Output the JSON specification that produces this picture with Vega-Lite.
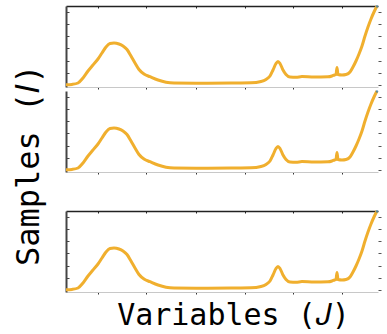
{
  "$schema": "https://vega.github.io/schema/vega-lite/v6.json",
  "padding": {"left": 12, "top": 0, "right": 0, "bottom": 0},
  "datasets": {
    "spec": [
      {"j": 0, "v": 2.2}, {"j": 6, "v": 2.6}, {"j": 12, "v": 4}, {"j": 17, "v": 9}, {"j": 22, "v": 16},
      {"j": 27, "v": 22}, {"j": 32, "v": 28}, {"j": 36, "v": 34}, {"j": 40, "v": 40}, {"j": 44, "v": 43.5},
      {"j": 48, "v": 44}, {"j": 53, "v": 43}, {"j": 57, "v": 41}, {"j": 61, "v": 37.5}, {"j": 65, "v": 31},
      {"j": 69, "v": 24}, {"j": 73, "v": 17.5}, {"j": 78, "v": 13}, {"j": 84, "v": 10.3}, {"j": 92, "v": 7},
      {"j": 100, "v": 4.8}, {"j": 108, "v": 4}, {"j": 130, "v": 3.8}, {"j": 165, "v": 4}, {"j": 185, "v": 4.2},
      {"j": 195, "v": 5.5}, {"j": 200, "v": 7.5}, {"j": 204, "v": 11}, {"j": 207, "v": 17}, {"j": 210, "v": 23.5},
      {"j": 212, "v": 25.5}, {"j": 214, "v": 23.5}, {"j": 217, "v": 17}, {"j": 220, "v": 12.5}, {"j": 224, "v": 10},
      {"j": 230, "v": 9.8}, {"j": 236, "v": 10.4}, {"j": 248, "v": 10}, {"j": 262, "v": 10.2}, {"j": 266, "v": 11},
      {"j": 268.5, "v": 12}, {"j": 270, "v": 12.5}, {"j": 271, "v": 19.5}, {"j": 272, "v": 12.5}, {"j": 276, "v": 12},
      {"j": 280, "v": 12.5}, {"j": 284, "v": 15}, {"j": 287, "v": 20}, {"j": 290, "v": 26}, {"j": 293, "v": 33},
      {"j": 296, "v": 41}, {"j": 299, "v": 51}, {"j": 302, "v": 60}, {"j": 305, "v": 68}, {"j": 308, "v": 75},
      {"j": 311, "v": 81}
    ],
    "tip": [{"j": 311, "v": 80.5}]
  },
  "title": {"text": "Samples (𝐼)", "orient": "left", "anchor": "middle", "font": "DejaVu Sans Mono", "fontSize": 32, "fontWeight": "normal", "color": "#000", "offset": 14},
  "config": {"view": {"stroke": null}, "axis": {"grid": false, "labels": false}},
  "spacing": 29,
  "vconcat": [
    {
      "spacing": -14,
      "vconcat": [
        {
          "width": 312, "height": 81,
          "resolve": {"axis": {"x": "independent", "y": "independent"}},
          "layer": [
            {
              "data": {"name": "spec"},
              "mark": {"type": "line", "color": "#F0AF2E", "strokeWidth": 3, "interpolate": "monotone"},
              "encoding": {
                "x": {"field": "j", "type": "quantitative", "scale": {"domain": [0, 312], "nice": false, "zero": false},
                  "axis": {"orient": "bottom", "values": [32, 80, 130, 179, 227, 276], "domainColor": "#c8c8c8", "domainWidth": 1, "tickColor": "#333", "tickSize": 2, "title": null}},
                "y": {"field": "v", "type": "quantitative", "scale": {"domain": [0, 81], "nice": false, "zero": false},
                  "axis": {"orient": "left", "values": [2, 14.3, 26.5, 38.7, 50.9, 63.1, 75.3], "domainColor": "#444", "domainWidth": 2, "tickColor": "#444", "tickSize": -3, "title": null}}
              }
            },
            {
              "data": {"name": "tip"},
              "mark": {"type": "point", "filled": true, "color": "#2a7ab8", "size": 6},
              "encoding": {
                "x": {"field": "j", "type": "quantitative",
                  "axis": {"orient": "top", "values": [32, 80, 130, 179, 227, 276], "domainColor": "#222", "domainWidth": 1.5, "tickColor": "#222", "tickSize": -2, "title": null}},
                "y": {"field": "v", "type": "quantitative",
                  "axis": {"orient": "right", "values": [2, 14.3, 26.5, 38.7, 50.9, 63.1, 75.3], "domain": false, "tickColor": "#555", "tickSize": 3, "title": null}}
              }
            }
          ]
        },
        {
          "width": 312, "height": 81,
          "resolve": {"axis": {"x": "independent", "y": "independent"}},
          "layer": [
            {
              "data": {"name": "spec"},
              "mark": {"type": "line", "color": "#F0AF2E", "strokeWidth": 3, "interpolate": "monotone"},
              "encoding": {
                "x": {"field": "j", "type": "quantitative", "scale": {"domain": [0, 312], "nice": false, "zero": false},
                  "axis": {"orient": "bottom", "values": [32, 80, 130, 179, 227, 276], "domainColor": "#c8c8c8", "domainWidth": 1, "tickColor": "#333", "tickSize": 2, "title": null}},
                "y": {"field": "v", "type": "quantitative", "scale": {"domain": [0, 81], "nice": false, "zero": false},
                  "axis": {"orient": "left", "values": [2, 14.3, 26.5, 38.7, 50.9, 63.1, 75.3], "domainColor": "#444", "domainWidth": 2, "tickColor": "#444", "tickSize": -3, "title": null}}
              }
            },
            {
              "data": {"name": "tip"},
              "mark": {"type": "point", "filled": true, "color": "#2a7ab8", "size": 6},
              "encoding": {
                "x": {"field": "j", "type": "quantitative",
                  "axis": {"orient": "top", "values": [32, 80, 130, 179, 227, 276], "domain": false, "ticks": false, "title": null}},
                "y": {"field": "v", "type": "quantitative",
                  "axis": {"orient": "right", "values": [2, 14.3, 26.5, 38.7, 50.9, 63.1, 75.3], "domain": false, "tickColor": "#555", "tickSize": 3, "title": null}}
              }
            }
          ]
        }
      ]
    },
    {
      "width": 312, "height": 81,
      "resolve": {"axis": {"x": "independent", "y": "independent"}},
      "layer": [
        {
          "data": {"name": "spec"},
          "mark": {"type": "line", "color": "#F0AF2E", "strokeWidth": 3, "interpolate": "monotone"},
          "encoding": {
            "x": {"field": "j", "type": "quantitative", "scale": {"domain": [0, 312], "nice": false, "zero": false},
              "axis": {"orient": "bottom", "values": [32, 80, 130, 179, 227, 276], "domainColor": "#c8c8c8", "domainWidth": 1, "tickColor": "#333", "tickSize": 2,
                "title": "Variables (𝐽)", "titleFont": "DejaVu Sans Mono", "titleFontSize": 30, "titleFontWeight": "normal", "titleColor": "#000", "titlePadding": 6, "titleX": 167}},
            "y": {"field": "v", "type": "quantitative", "scale": {"domain": [0, 81], "nice": false, "zero": false},
              "axis": {"orient": "left", "values": [2, 14.3, 26.5, 38.7, 50.9, 63.1, 75.3], "domainColor": "#444", "domainWidth": 2, "tickColor": "#444", "tickSize": -3, "title": null}}
          }
        },
        {
          "data": {"name": "tip"},
          "mark": {"type": "point", "filled": true, "color": "#2a7ab8", "size": 6},
          "encoding": {
            "x": {"field": "j", "type": "quantitative",
              "axis": {"orient": "top", "values": [32, 80, 130, 179, 227, 276], "domainColor": "#222", "domainWidth": 1.5, "tickColor": "#222", "tickSize": -2, "title": null}},
            "y": {"field": "v", "type": "quantitative",
              "axis": {"orient": "right", "values": [2, 14.3, 26.5, 38.7, 50.9, 63.1, 75.3], "domain": false, "tickColor": "#555", "tickSize": 3, "title": null}}
          }
        }
      ]
    }
  ]
}
